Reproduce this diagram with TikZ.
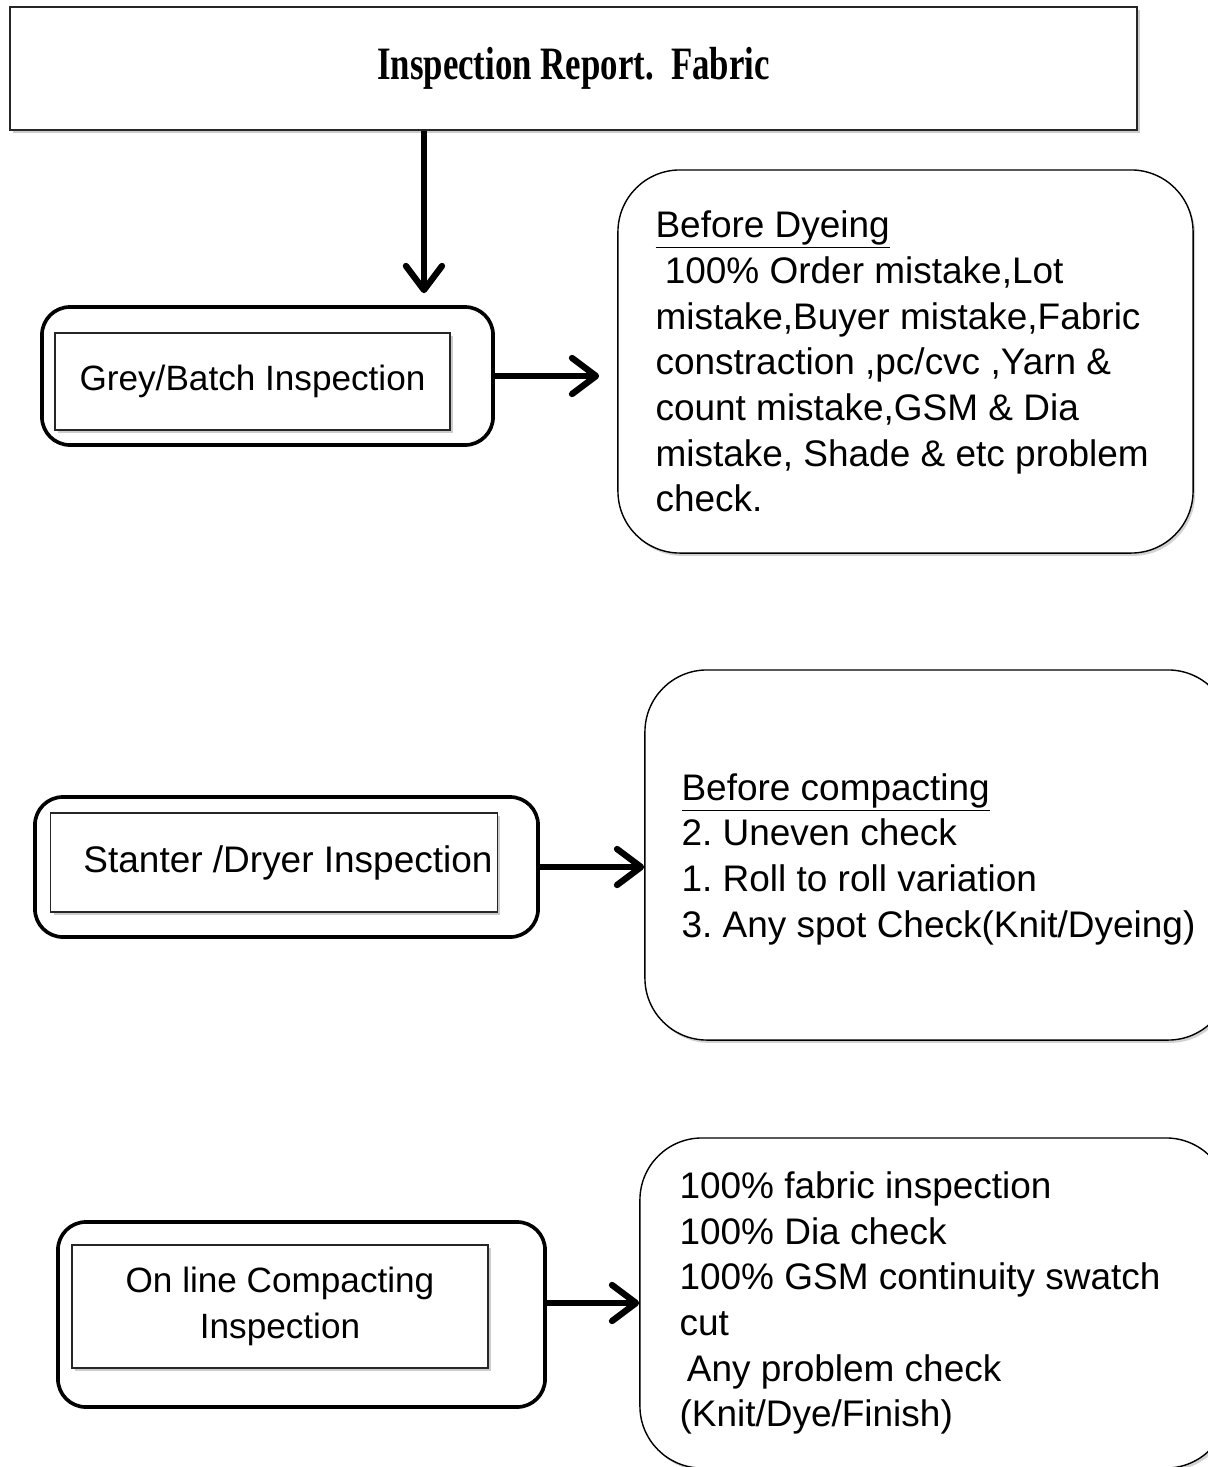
\documentclass[tikz,border=0pt]{standalone}
\usepackage{fontspec}
\setmainfont{Liberation Sans}
\newfontfamily\reportfont{Liberation Serif}
\usetikzlibrary{arrows.meta,positioning,shadows}
\frenchspacing

\begin{document}
\begin{tikzpicture}[x=0.025cm,y=-0.025cm]
    \tikzset{stagebox/.style = {shape=rectangle, draw, line width=2.6pt, rounded corners=0.7cm}}
    \tikzset{labelbox/.style = {shape=rectangle, draw=black!85, line width=1pt, fill=white,
        drop shadow={shadow xshift=2pt, shadow yshift=-2pt, fill=black!40},
        font=\fontsize{25}{32.5}\selectfont, align=center}}
    \tikzset{notebox/.style = {shape=rectangle, draw, line width=1pt, rounded corners=1.55cm, fill=white,
        drop shadow={shadow xshift=1.5pt, shadow yshift=-2pt, fill=black!35}}}
    \tikzset{notetext/.style = {font=\fontsize{26.3}{32.5}\selectfont, align=left, inner sep=0pt}}
    \tikzset{flow/.style = {draw, line width=3.9pt, -{Straight Barb[length=6mm, width=9mm, round, line width=4.5pt]}}}

    \useasboundingbox (0,0) rectangle (1208,1467);
    \clip (0,0) rectangle (1208,1467);

    % title
    \node[labelbox, minimum width=28.175cm, minimum height=3.075cm,
        font=\reportfont\bfseries\fontsize{33}{36}\selectfont] (title) at (573.5,68.5)
        {\raisebox{-5pt}{\scalebox{0.75}[1]{Inspection Report.\ \ Fabric}}};

    % stages
    \node[stagebox, minimum width=11.275cm, minimum height=3.45cm] (greyouter) at (267.5,376) {};
    \node[labelbox, minimum width=9.875cm, minimum height=2.425cm] (greyinner) at (252.5,381.5) {Grey/Batch Inspection};

    \node[stagebox, minimum width=12.575cm, minimum height=3.5cm] (stanterouter) at (286.5,867) {};
    \node[labelbox, minimum width=11.05cm, minimum height=2.475cm, font=\fontsize{26.3}{32.5}\selectfont] (stanterinner) at (274,862.5) {\hspace*{0.7cm}Stanter /Dryer Inspection};

    \node[stagebox, minimum width=12.175cm, minimum height=4.625cm] (onlineouter) at (301.5,1314.5) {};
    \node[labelbox, minimum width=10.4cm, minimum height=3.075cm] (onlineinner) at (280,1306.5) {On line Compacting\\Inspection};

    % notes
    \node[notebox, minimum width=14.375cm, minimum height=9.575cm] (dyebox) at (905.5,361.5) {};
    \node[notetext, right=0.95cm of dyebox.west] (dyetext)
        {\underline{Before Dyeing}\\
         \hspace*{0.25em}100\% Order mistake,Lot\\
         mistake,Buyer mistake,Fabric\\
         constraction ,pc/cvc ,Yarn \&\\
         count mistake,GSM \& Dia\\
         mistake, Shade \& etc problem\\
         check.};

    \node[notebox, minimum width=14.625cm, minimum height=9.25cm] (compbox) at (937.5,855) {};
    \node[notetext, right=0.925cm of compbox.west, yshift=-3pt] (comptext)
        {\underline{Before compacting}\\
         2. Uneven check\\
         1. Roll to roll variation\\
         3. Any spot Check(Knit/Dyeing)};

    \node[notebox, minimum width=14.7cm, minimum height=8.25cm] (finbox) at (934,1303) {};
    \node[notetext, right=1cm of finbox.west] (fintext)
        {100\% fabric inspection\\
         100\% Dia check\\
         100\% GSM continuity swatch\\
         cut\\
         \hspace*{0.2em}Any problem check\\
         (Knit/Dye/Finish)};

    % arrows
    \coordinate (titlefoot) at ([xshift=-3.7375cm]title.south);
    \draw[flow, shorten >=0.3cm] (titlefoot) -- (titlefoot |- greyouter.north);
    \draw[flow, shorten >=0.45cm] (greyouter.east) -- (greyouter.east -| dyebox.west);
    \draw[flow] (stanterouter.east) -- (stanterouter.east -| compbox.west);
    \draw[flow] (onlineouter.east |- finbox.west) -- (finbox.west);
\end{tikzpicture}
\end{document}
